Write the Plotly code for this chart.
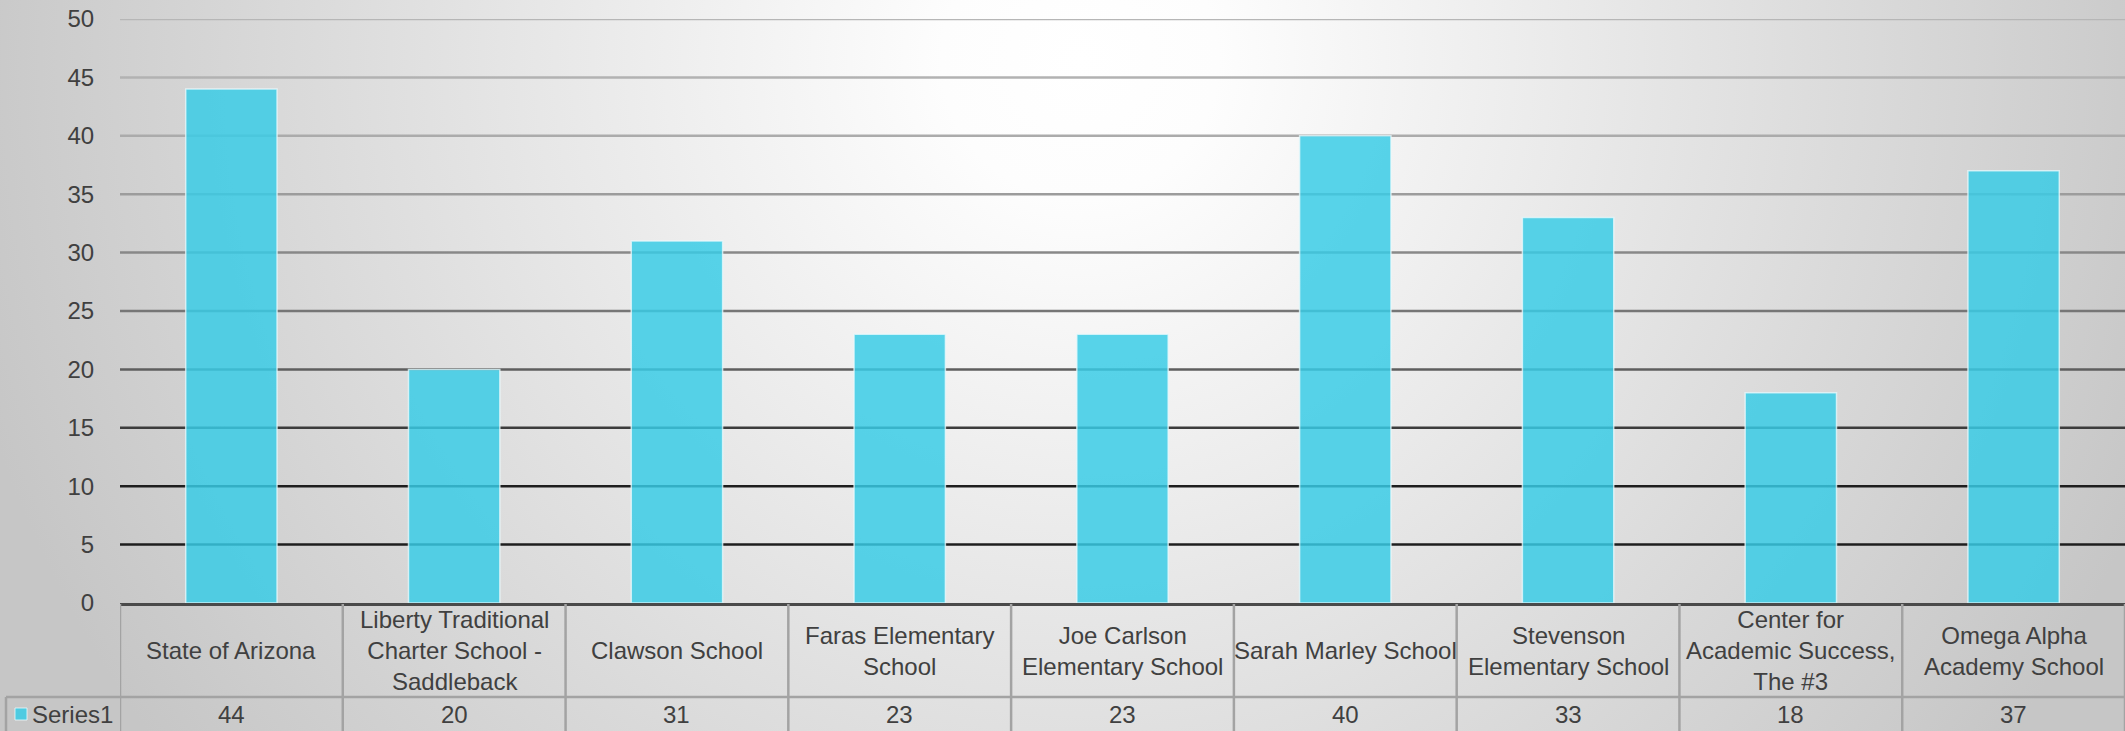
import base64
import plotly.graph_objects as go

categories = ["State of Arizona", "Liberty Traditional Charter School - Saddleback",
              "Clawson School", "Faras Elementary School", "Joe Carlson Elementary School",
              "Sarah Marley School", "Stevenson Elementary School",
              "Center for Academic Success, The #3", "Omega Alpha Academy School"]
header_labels = ["State of Arizona", "Liberty Traditional<br>Charter School -<br>Saddleback",
                 "Clawson School", "Faras Elementary<br>School", "Joe Carlson<br>Elementary School",
                 "Sarah Marley School", "Stevenson<br>Elementary School",
                 "Center for<br>Academic Success,<br>The #3", "Omega Alpha<br>Academy School"]
series_name = "Series1"
values = [44, 20, 31, 23, 23, 40, 33, 18, 37]
y_ticks = [0, 5, 10, 15, 20, 25, 30, 35, 40, 45, 50]
grid_colors = {5: "#1e1e1e", 10: "#1e1e1e", 15: "#3c3c3c", 20: "#5e5e5e", 25: "#767676",
               30: "#888888", 35: "#9c9c9c", 40: "#ababab", 45: "#b2b2b2", 50: "#b6b6b6"}

W, H = 2125, 731
ML, MR, MT, MB = 120, 0, 19, 128
PW, PH = W - ML - MR, H - MT - MB

def px_to_py(p):
    return (H - MB - p) / PH

def px_to_px(x):
    return (x - ML) / PW

FONT = "Liberation Sans, Arial, sans-serif"
TXT = "#404040"
BAR = "rgba(56,204,230,0.84)"
LINE = "#a3a3a3"
FS = 24

svg = ("<svg xmlns='http://www.w3.org/2000/svg' width='2125' height='731' viewBox='0 0 2125 731' "
       "preserveAspectRatio='none'><defs><radialGradient id='g' gradientUnits='userSpaceOnUse' "
       "cx='1080' cy='60' r='1150'><stop offset='0' stop-color='#ffffff'/>"
       "<stop offset='0.12' stop-color='#fdfdfd'/><stop offset='1' stop-color='#c6c6c6'/>"
       "</radialGradient></defs><rect width='2125' height='731' fill='url(#g)'/></svg>")
src = "data:image/svg+xml;base64," + base64.b64encode(svg.encode()).decode()

fig = go.Figure()
fig.add_trace(go.Bar(x=categories, y=values, name=series_name,
                     marker=dict(color=BAR, line=dict(color="rgba(235,250,252,0.75)", width=1.5))))

shapes = []
for t in y_ticks:
    if t == 0:
        continue
    shapes.append(dict(type="line", xref="paper", yref="y", x0=0, x1=1, y0=t, y1=t,
                       line=dict(color=grid_colors[t], width=2.5), layer="below"))

n = len(categories)
y_axis = px_to_py(604)
y_hdr_bot = px_to_py(697)
y_bot = px_to_py(735)
# vertical cell borders
for i in range(n + 1):
    shapes.append(dict(type="line", xref="x", yref="paper", x0=i - 0.5, x1=i - 0.5,
                       y0=y_axis, y1=y_bot, line=dict(color=LINE, width=2.5)))
# row border
shapes.append(dict(type="line", xref="paper", yref="paper", x0=px_to_px(6), x1=1,
                   y0=y_hdr_bot, y1=y_hdr_bot, line=dict(color=LINE, width=2.5)))
shapes.append(dict(type="line", xref="paper", yref="paper", x0=px_to_px(6), x1=px_to_px(6),
                   y0=y_hdr_bot, y1=y_bot, line=dict(color=LINE, width=2.5)))
# legend key
shapes.append(dict(type="rect", xref="paper", yref="paper", x0=px_to_px(15), x1=px_to_px(27),
                   y0=px_to_py(720), y1=px_to_py(708), fillcolor=BAR,
                   line=dict(color="rgba(235,250,252,0.8)", width=1)))

annotations = []
y_hdr = px_to_py(651)
y_val = px_to_py(714)
for i, (lab, v) in enumerate(zip(header_labels, values)):
    annotations.append(dict(x=i, y=y_hdr, xref="x", yref="paper", text=lab, showarrow=False,
                            xanchor="center", yanchor="middle", align="center",
                            font=dict(family=FONT, size=FS, color=TXT)))
    annotations.append(dict(x=i, y=y_val, xref="x", yref="paper", text=str(v), showarrow=False,
                            xanchor="center", yanchor="middle",
                            font=dict(family=FONT, size=FS, color=TXT)))
annotations.append(dict(x=px_to_px(30), y=y_val, xref="paper", yref="paper", text=series_name,
                        showarrow=False, xanchor="left", yanchor="middle",
                        font=dict(family=FONT, size=FS, color=TXT)))

fig.update_layout(
    width=W, height=H, autosize=False,
    margin=dict(l=ML, r=MR, t=MT, b=MB, pad=0),
    paper_bgcolor="rgba(0,0,0,0)", plot_bgcolor="rgba(0,0,0,0)",
    showlegend=False, bargap=0.59,
    shapes=shapes, annotations=annotations,
    images=[dict(source=src, xref="paper", yref="paper", x=-ML / PW, y=1 + MT / PH,
                 sizex=W / PW, sizey=H / PH, sizing="stretch", xanchor="left", yanchor="top",
                 layer="below")],
    xaxis=dict(range=[-0.5, n - 0.5], showticklabels=False, showgrid=False, zeroline=False,
               showline=True, linecolor="#4a4a4a", linewidth=3, ticks=""),
    yaxis=dict(range=[0, 50], tickvals=y_ticks, showgrid=False, zeroline=False, showline=False,
               ticks="outside", ticklen=20, tickcolor="rgba(0,0,0,0)",
               tickfont=dict(family=FONT, size=FS, color=TXT)),
)

fig.write_html("out.html", config={"displayModeBar": False},
               post_script="document.body.style.margin='0';document.body.style.overflow='hidden';")
